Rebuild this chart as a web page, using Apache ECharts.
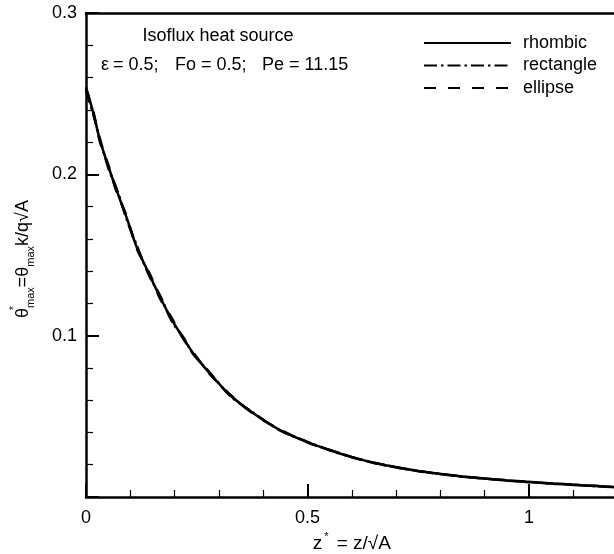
<!DOCTYPE html>
<html><head><meta charset="utf-8">
<script src="https://cdn.jsdelivr.net/npm/echarts@6/dist/echarts.min.js"></script>
<style>html,body{margin:0;padding:0;background:#fff}#c{width:614px;height:554px}</style>
</head><body><div id="c"></div>
<script>
const zValues = [0, 0.0165, 0.0316, 0.0503, 0.0693, 0.0919, 0.1144, 0.1445, 0.167, 0.1935, 0.2196, 0.2422, 0.2799, 0.325, 0.3777, 0.4379, 0.5, 0.55, 0.6, 0.65, 0.7, 0.75, 0.8, 0.85, 0.9, 0.95, 1.0, 1.05, 1.1, 1.15, 1.2];
const rhombic   = [0.254, 0.238, 0.221, 0.205, 0.190, 0.173, 0.155, 0.137, 0.124, 0.110, 0.0985, 0.089, 0.0765, 0.0632, 0.0519, 0.0415, 0.0340, 0.0291, 0.0247, 0.0212, 0.0184, 0.0161, 0.0142, 0.0127, 0.0114, 0.0103, 0.0093, 0.0084, 0.0076, 0.0068, 0.0060];
const rectangle = [0.252, 0.237, 0.222, 0.204, 0.191, 0.172, 0.156, 0.136, 0.125, 0.109, 0.0990, 0.0885, 0.0770, 0.0628, 0.0522, 0.0413, 0.0342, 0.0290, 0.0248, 0.0211, 0.0185, 0.0160, 0.0143, 0.0126, 0.0115, 0.0102, 0.0094, 0.0083, 0.0077, 0.0067, 0.0061];
const ellipse   = [0.253, 0.239, 0.220, 0.206, 0.189, 0.174, 0.154, 0.138, 0.123, 0.111, 0.0980, 0.0895, 0.0760, 0.0636, 0.0516, 0.0418, 0.0338, 0.0292, 0.0246, 0.0213, 0.0183, 0.0162, 0.0141, 0.0128, 0.0113, 0.0104, 0.0092, 0.0085, 0.0075, 0.0069, 0.0059];
const xTickLabels = ['0', '0.5', '1'];
const yTickLabels = ['0.1', '0.2', '0.3'];
const seriesNames = ['rhombic', 'rectangle', 'ellipse'];

const FONT = '"Liberation Sans", Arial, sans-serif';
const pairs = arr => zValues.map((z, i) => [z, arr[i]]);
const dashes = ['solid', [13, 4, 2.5, 4], [12, 12]];
const dataSets = [rhombic, rectangle, ellipse];
const txt = (s, x, y, align) => ({type: 'text', x: x, y: y, style: {text: s, fontFamily: FONT, fontSize: 18, fill: '#000', align: align || 'left', verticalAlign: 'middle'}});

const chart = echarts.init(document.getElementById('c'), null, {renderer: 'canvas'});
chart.setOption({
  animation: false,
  backgroundColor: '#fff',
  grid: {left: 86, top: 13, width: 531.6, height: 484, containLabel: false, outerBoundsMode: 'none'},
  legend: {
    orient: 'vertical', left: 423, top: 34, padding: 0, itemWidth: 87, itemHeight: 14, itemGap: 4.5,
    data: seriesNames,
    itemStyle: {opacity: 0, borderWidth: 0},
    textStyle: {fontFamily: FONT, fontSize: 18, color: '#000', padding: [0, 0, 0, 7]},
    selectedMode: false
  },
  xAxis: [{
    type: 'value', min: 0, max: 1.2, interval: 0.5,
    axisLine: {show: true, lineStyle: {color: '#000', width: 2.5}},
    axisTick: {show: true, inside: true, length: 13, lineStyle: {color: '#000', width: 2}},
    minorTick: {show: true, splitNumber: 5, length: 7, lineStyle: {color: '#000', width: 1.2}},
    splitLine: {show: false},
    axisLabel: {fontFamily: FONT, fontSize: 18, color: '#000', margin: 12, showMaxLabel: false,
      formatter: v => { const i = Math.round(v / 0.5); return Math.abs(v - i * 0.5) < 1e-9 && i < xTickLabels.length ? xTickLabels[i] : ''; }},
    name: '{m|z}{sup|*}{m| = z/√A}', nameLocation: 'middle', nameGap: 33,
    nameTextStyle: {fontFamily: FONT, color: '#000', rich: {
      m: {fontFamily: FONT, fontSize: 19, color: '#000', lineHeight: 24},
      sup: {fontFamily: FONT, fontSize: 11, color: '#000', verticalAlign: 'top', lineHeight: 11, padding: [0, 3, 0, 2]}
    }}
  }, {
    type: 'value', min: 0, max: 1.2, position: 'top',
    axisLine: {show: true, lineStyle: {color: '#000', width: 2.5}},
    axisTick: {show: false}, axisLabel: {show: false}, splitLine: {show: false}
  }],
  yAxis: {
    type: 'value', min: 0, max: 0.3, interval: 0.1,
    axisLine: {show: true, lineStyle: {color: '#000', width: 2.5}},
    axisTick: {show: true, inside: true, length: 13, lineStyle: {color: '#000', width: 2}},
    minorTick: {show: true, splitNumber: 5, length: 7, lineStyle: {color: '#000', width: 1.2}},
    splitLine: {show: false},
    axisLabel: {fontFamily: FONT, fontSize: 18, color: '#000', margin: 9, showMinLabel: false,
      formatter: v => { const i = Math.round(v / 0.1) - 1; return i >= 0 && i < yTickLabels.length ? yTickLabels[i] : ''; }}
  },
  graphic: [
    txt('Isoflux heat source', 218, 36, 'center'),
    txt('ε', 101, 65), txt('= 0.5;', 113, 65), txt('Fo = 0.5;', 175, 65), txt('Pe = 11.15', 262, 65),
    {type: 'text', x: 23, y: 259, rotation: Math.PI / 2, style: {
      text: '{m|θ}{sup|*}{s|max}{m|=θ}{s|max}{m|k/q√A}',
      align: 'center', verticalAlign: 'middle',
      rich: {
        m: {fontFamily: FONT, fontSize: 18, fill: '#000', lineHeight: 27},
        s: {fontFamily: FONT, fontSize: 11, fill: '#000', lineHeight: 11, verticalAlign: 'bottom'},
        sup: {fontFamily: FONT, fontSize: 10, fill: '#000', lineHeight: 10, verticalAlign: 'top', width: 0}
      }
    }}
  ],
  series: seriesNames.map((n, k) => ({
    name: n, type: 'line', xAxisIndex: 0, data: pairs(dataSets[k]),
    showSymbol: false, symbol: 'none', smooth: 0.3,
    lineStyle: {color: '#000', width: 2.5, type: dashes[k]},
    itemStyle: {color: '#000'}
  }))
});
</script></body></html>
